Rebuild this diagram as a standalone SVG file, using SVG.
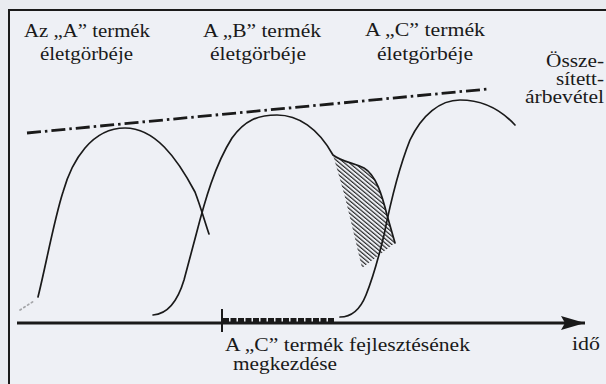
<svg xmlns="http://www.w3.org/2000/svg" width="606" height="384" viewBox="0 0 606 384">
<defs>
<style>
text{font-family:"Liberation Serif","Times New Roman",serif;font-size:18px;fill:#1a1a1a}
.c{fill:none;stroke:#1a1a1a;stroke-width:1.7;stroke-linecap:round;stroke-linejoin:round}
</style>
<pattern id="hatch" patternUnits="userSpaceOnUse" width="3.2" height="3.2" patternTransform="rotate(-50)">
<line x1="0.6" y1="0" x2="0.6" y2="3.2" stroke="#1a1a1a" stroke-width="1.1"/>
</pattern>
<marker id="arr" markerWidth="24" markerHeight="14" refX="24" refY="7" orient="auto" markerUnits="userSpaceOnUse">
<path d="M0,0 L24,7 L0,14 L4,7 Z" fill="#1a1a1a"/>
</marker>
</defs>
<rect x="0" y="0" width="606" height="384" fill="#e9ebf0"/>
<rect x="9" y="10" width="610" height="390" fill="#eef0f5" stroke="#1a1a1a" stroke-width="2"/>

<g id="connectors">
<line x1="17" y1="323" x2="585" y2="323" stroke="#1a1a1a" stroke-width="2.8" marker-end="url(#arr)"/>
<line x1="222" y1="309" x2="222" y2="332" stroke="#1a1a1a" stroke-width="2"/>
<line x1="223" y1="320" x2="335" y2="320" stroke="#1a1a1a" stroke-width="4" stroke-dasharray="6 1.5"/>
<line x1="27" y1="133" x2="488" y2="89" stroke="#1a1a1a" stroke-width="2.8" stroke-dasharray="14 4 2.5 4"/>
</g>

<g id="hatched">
<path d="M333,155 C342,162 355,163 364,168 C376,175 382,195 387,215 L395,243 L362,268 L353,230 L345,197 Z" fill="url(#hatch)"/>
</g>

<g id="curve-a">
<path class="c" d="M20,310 L34,301" stroke-dasharray="1.5 3" style="stroke-opacity:0.35"/>
<path class="c" d="M38,297 C46,265 54,220 63,192 C72,160 92,128 125,128 C155,128 177,158 195,192 C200,205 205,222 209,234"/>
</g>
<g id="curve-b">
<path class="c" d="M153,315 C168,314 178,300 184,280 L196,235 C205,200 215,165 232,138 C245,120 258,115 277,115 C298,115 318,128 333,155 C342,162 355,163 364,168 C376,175 382,195 387,215 L395,243"/>
</g>
<g id="curve-c">
<path class="c" d="M340,317 C352,317 360,310 366,295 C372,280 378,260 384,235 C390,205 398,170 410,140 C422,115 440,100 460,100 C485,100 503,112 515,125"/>
</g>

<g id="label-a">
<text x="24" y="37" textLength="126" lengthAdjust="spacingAndGlyphs">Az „A” termék</text>
<text x="40" y="60" textLength="93" lengthAdjust="spacingAndGlyphs">életgörbéje</text>
</g>
<g id="label-b">
<text x="203" y="37" textLength="118" lengthAdjust="spacingAndGlyphs">A „B” termék</text>
<text x="210" y="60" textLength="96" lengthAdjust="spacingAndGlyphs">életgörbéje</text>
</g>
<g id="label-c">
<text x="365" y="36" textLength="120" lengthAdjust="spacingAndGlyphs">A „C” termék</text>
<text x="377" y="60" textLength="96" lengthAdjust="spacingAndGlyphs">életgörbéje</text>
</g>
<g id="label-total">
<text x="546" y="67" textLength="58" lengthAdjust="spacingAndGlyphs">Össze-</text>
<text x="556" y="85" textLength="48" lengthAdjust="spacingAndGlyphs">sített-</text>
<text x="525" y="103" textLength="79" lengthAdjust="spacingAndGlyphs">árbevétel</text>
</g>
<g id="label-dev">
<text x="225" y="351" textLength="245" lengthAdjust="spacingAndGlyphs">A „C” termék fejlesztésének</text>
<text x="233" y="370" textLength="104" lengthAdjust="spacingAndGlyphs">megkezdése</text>
</g>
<g id="label-time">
<text x="572" y="350" textLength="28" lengthAdjust="spacingAndGlyphs">idő</text>
</g>
</svg>
